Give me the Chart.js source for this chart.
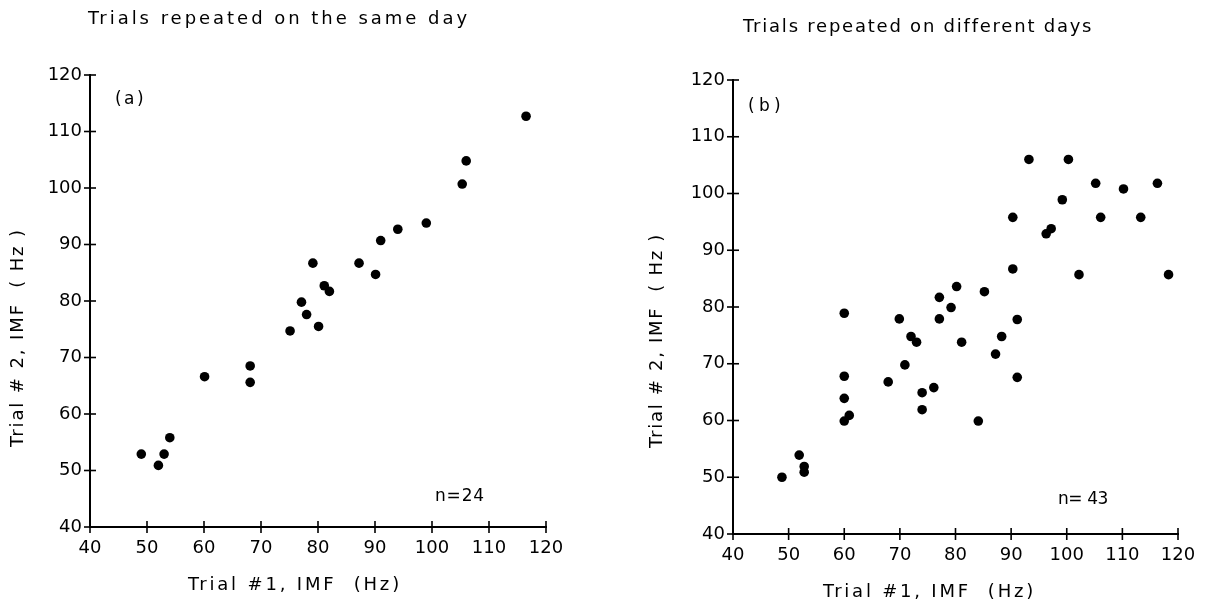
<!DOCTYPE html>
<html><head><meta charset="utf-8">
<script src="https://cdn.jsdelivr.net/npm/chart.js@4.4.1/dist/chart.umd.min.js"></script>
<style>
html,body{margin:0;padding:0;background:#fff;width:1222px;height:605px;overflow:hidden}
#wa{position:absolute;left:0;top:0;width:600px;height:605px}
#wb{position:absolute;left:600px;top:0;width:622px;height:605px}
canvas{display:block}
</style></head><body>
<div id="wa"><canvas id="ca" width="600" height="605"></canvas></div>
<div id="wb"><canvas id="cb" width="622" height="605"></canvas></div>
<script>
// Panel (a): trials repeated on the same day
const aX = [116.5, 106, 105.3, 99, 94, 91, 87.2, 90.1, 79.1, 81.1, 82, 77.1, 78, 80.1, 75.1, 68.1, 68.1, 60.1, 54, 49, 53, 52];
const aY = [112.7, 104.8, 100.7, 93.8, 92.7, 90.7, 86.7, 84.7, 86.7, 82.7, 81.7, 79.8, 77.6, 75.5, 74.7, 68.5, 65.6, 66.6, 55.8, 52.9, 52.9, 50.9];
// Panel (b): trials repeated on different days
const bX = [93.2, 100.3, 105.2, 110.2, 116.3, 99.2, 90.3, 106.1, 113.3, 97.2, 96.3, 90.3, 102.2, 118.3, 80.2, 85.2, 77.1,
            60, 69.9, 77.1, 79.2, 91.1, 72, 73, 81.1, 88.3, 87.2, 70.9, 60, 67.9, 76.1, 74, 91.1, 60, 74, 60, 60.9, 84.1, 51.9, 52.8, 52.8, 48.8];
const bY = [106, 106, 101.8, 100.8, 101.8, 98.9, 95.8, 95.8, 95.8, 93.8, 92.9, 86.7, 85.7, 85.7, 83.6, 82.7, 81.7,
            78.9, 77.9, 77.9, 79.9, 77.8, 74.8, 73.8, 73.8, 74.8, 71.7, 69.8, 67.8, 66.8, 65.8, 64.9, 67.6, 63.9, 61.9, 59.9, 60.9, 59.9, 53.9, 51.9, 50.9, 50];
const axisTicks = [40, 50, 60, 70, 80, 90, 100, 110, 120];
const titles = ["Trials repeated on the same day", "Trials repeated on different days"];
const panelLabels = ["(a)", "(b)"];
const nLabels = ["n=24", "n= 43"];
const xTitle = "Trial #1, IMF  (Hz)";
const yTitle = "Trial # 2, IMF  ( Hz )";

const FONT = "'DejaVu Sans', sans-serif";

function fitText(ctx, text, x, y, width, size) {
  ctx.font = size + "px " + FONT;
  ctx.letterSpacing = "0px";
  const w = ctx.measureText(text).width;
  const s = Math.max(-1, (width - w) / text.length);
  ctx.letterSpacing = s + "px";
  ctx.textAlign = "left";
  ctx.textBaseline = "middle";
  ctx.fillText(text, x, y);
  ctx.letterSpacing = "0px";
}

function decor(cfg) {
  return {
    id: 'decor',
    afterDraw(chart) {
      const ctx = chart.ctx;
      const xs = chart.scales.x, ys = chart.scales.y;
      ctx.save();
      ctx.strokeStyle = '#000';
      ctx.lineWidth = 1.6;
      const ax = xs.getPixelForValue(40), ay = ys.getPixelForValue(40);
      axisTicks.forEach(v => {
        const px = xs.getPixelForValue(v);
        ctx.beginPath(); ctx.moveTo(px, ay - 6); ctx.lineTo(px, ay + 6); ctx.stroke();
        const py = ys.getPixelForValue(v);
        ctx.beginPath(); ctx.moveTo(ax - 6, py); ctx.lineTo(ax + 6, py); ctx.stroke();
      });
      ctx.fillStyle = '#000';
      fitText(ctx, cfg.title, cfg.titleX, cfg.titleY, cfg.titleW, 18);
      fitText(ctx, cfg.panel, cfg.panelX, cfg.panelY, cfg.panelW, 17);
      fitText(ctx, cfg.n, cfg.nX, cfg.nY, cfg.nW, 17);
      fitText(ctx, xTitle, cfg.xtX, cfg.xtY, cfg.xtW, 18);
      ctx.save();
      ctx.translate(cfg.ytX, cfg.ytY);
      ctx.rotate(-Math.PI / 2);
      fitText(ctx, yTitle, 0, 0, cfg.ytW, 18);
      ctx.restore();
      ctx.restore();
    }
  };
}

function makeChart(id, xsArr, ysArr, cfg) {
  const pts = xsArr.map((x, i) => ({x: x, y: ysArr[i]}));
  const tickFont = {family: FONT, size: 18};
  return new Chart(document.getElementById(id), {
    type: 'scatter',
    data: {datasets: [{data: pts, backgroundColor: '#000', borderColor: '#000', pointRadius: 4.8, pointHoverRadius: 4.8, borderWidth: 0}]},
    options: {
      responsive: false, animation: false,
      layout: {padding: {top: cfg.top, right: cfg.right, left: 0, bottom: 0}},
      plugins: {legend: {display: false}, tooltip: {enabled: false}, title: {display: false}},
      scales: {
        x: {
          type: 'linear', min: 40, max: 120,
          afterBuildTicks: s => { s.ticks = axisTicks.map(v => ({value: v})); },
          grid: {display: true, drawOnChartArea: false, drawTicks: false},
          border: {display: true, color: '#000', width: 2},
          ticks: {color: '#000', font: tickFont, padding: 11, maxRotation: 0, autoSkip: false},
          afterFit: s => { s.height = cfg.xh; }
        },
        y: {
          type: 'linear', min: 40, max: 120,
          afterBuildTicks: s => { s.ticks = axisTicks.map(v => ({value: v})); },
          grid: {display: true, drawOnChartArea: false, drawTicks: false},
          border: {display: true, color: '#000', width: 2},
          ticks: {color: '#000', font: tickFont, padding: 8, autoSkip: false},
          afterFit: s => { s.width = cfg.yw; }
        }
      }
    },
    plugins: [decor(cfg)]
  });
}

makeChart('ca', aX, aY, {
  top: 75, right: 54, xh: 78, yw: 90,
  title: titles[0], titleX: 88, titleY: 19, titleW: 382,
  panel: panelLabels[0], panelX: 115, panelY: 100, panelW: 31,
  n: nLabels[0], nX: 435, nY: 497, nW: 50,
  xtX: 188, xtY: 585, xtW: 214,
  ytX: 18, ytY: 447, ytW: 219
});
makeChart('cb', bX, bY, {
  top: 80, right: 44, xh: 71, yw: 133,
  title: titles[1], titleX: 143, titleY: 27, titleW: 350,
  panel: panelLabels[1], panelX: 148, panelY: 107, panelW: 37,
  n: nLabels[1], nX: 458, nY: 500, nW: 50,
  xtX: 223, xtY: 592, xtW: 213,
  ytX: 57, ytY: 448, ytW: 215
});
</script>
</body></html>
